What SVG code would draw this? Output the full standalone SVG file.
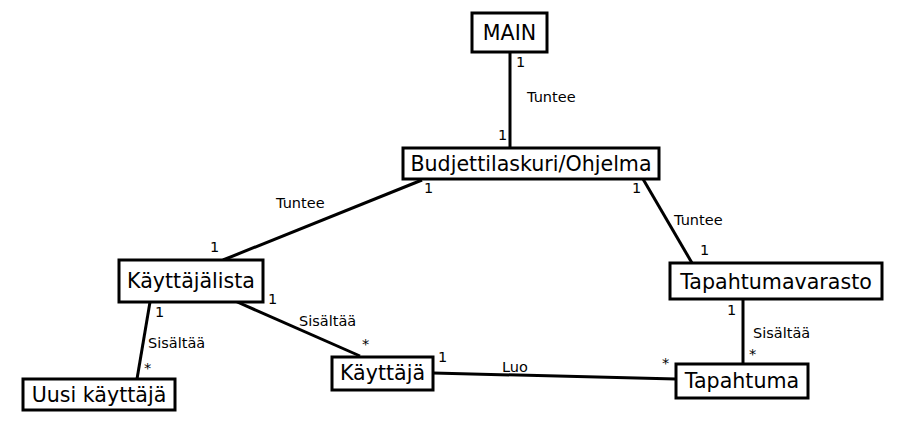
<svg xmlns="http://www.w3.org/2000/svg" width="904" height="434" viewBox="0 0 904 434">
<style>
.box{fill:#fff;stroke:#000;stroke-width:3}
.t{font-family:"DejaVu Sans",sans-serif;font-size:20.6px;fill:#000;text-anchor:middle}
.l{font-family:"DejaVu Sans",sans-serif;font-size:14.5px;fill:#000}
.c{stroke:#000;stroke-width:3;fill:none}
</style>
<rect width="904" height="434" fill="#fff"/>
<g id="connectors">
<line class="c" x1="510" y1="52" x2="510" y2="148"/>
<line class="c" x1="223" y1="260" x2="422" y2="180"/>
<line class="c" x1="643" y1="179" x2="692" y2="263"/>
<line class="c" x1="743" y1="299" x2="743" y2="364"/>
<line class="c" x1="433" y1="373" x2="676" y2="379"/>
<line class="c" x1="235" y1="301" x2="360" y2="356"/>
<line class="c" x1="150" y1="302" x2="137" y2="379"/>
<text class="l" x="516" y="67">1</text>
<text class="l" x="527" y="102">Tuntee</text>
<text class="l" x="498" y="140">1</text>
<text class="l" x="276" y="208">Tuntee</text>
<text class="l" x="210" y="252">1</text>
<text class="l" x="424" y="193">1</text>
<text class="l" x="632" y="193">1</text>
<text class="l" x="674" y="225">Tuntee</text>
<text class="l" x="700" y="255">1</text>
<text class="l" x="727" y="315">1</text>
<text class="l" x="753" y="338">Sisältää</text>
<text class="l" x="749" y="359">*</text>
<text class="l" x="438" y="362">1</text>
<text class="l" x="502" y="372">Luo</text>
<text class="l" x="662" y="368">*</text>
<text class="l" x="268" y="304">1</text>
<text class="l" x="299" y="326">Sisältää</text>
<text class="l" x="362" y="349">*</text>
<text class="l" x="155" y="317">1</text>
<text class="l" x="148" y="348">Sisältää</text>
<text class="l" x="144" y="373">*</text>
</g>
<g id="main"><rect class="box" x="472" y="13" width="75" height="39"/><text class="t" x="509.5" y="40">MAIN</text></g>
<g id="budjettilaskuri"><rect class="box" x="403" y="148" width="256" height="31"/><text class="t" x="531" y="171">Budjettilaskuri/Ohjelma</text></g>
<g id="kayttajalista"><rect class="box" x="119" y="260" width="144" height="42"/><text class="t" x="191" y="288">Käyttäjälista</text></g>
<g id="tapahtumavarasto"><rect class="box" x="670" y="263" width="212" height="36"/><text class="t" x="776" y="289">Tapahtumavarasto</text></g>
<g id="tapahtuma"><rect class="box" x="676" y="364" width="132" height="34"/><text class="t" x="742" y="388">Tapahtuma</text></g>
<g id="kayttaja"><rect class="box" x="332" y="357" width="101" height="33"/><text class="t" x="382.5" y="380">Käyttäjä</text></g>
<g id="uusikayttaja"><rect class="box" x="23" y="379" width="152" height="31"/><text class="t" x="99" y="402">Uusi käyttäjä</text></g>
</svg>
